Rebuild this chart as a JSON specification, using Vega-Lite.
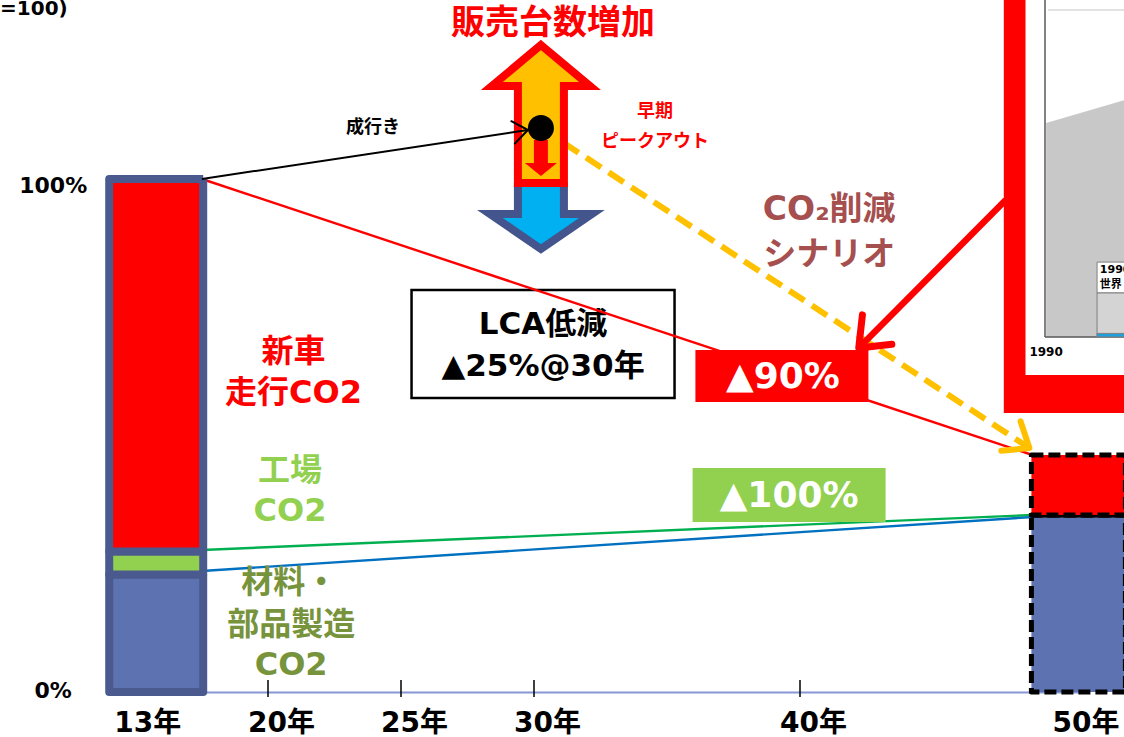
{
  "$schema": "https://vega.github.io/schema/vega-lite/v6.json",
  "width": 1124,
  "height": 692,
  "autosize": {"type": "none"},
  "padding": {"left": 0, "top": 0, "right": 0, "bottom": 45},
  "background": "#ffffff",
  "config": {"view": {"stroke": null}, "font": "DejaVu Sans, Noto Sans CJK JP"},
  "resolve": {"scale": {"color": "independent"}},
  "encoding": {
    "x": {
      "field": "year",
      "type": "quantitative",
      "scale": {"domain": [13, 20, 40, 50], "range": [153, 268, 800, 1084], "nice": false, "zero": false},
      "axis": {
        "values": [13, 20, 25, 30, 40, 50],
        "labelExpr": "datum.value + '年'",
        "title": null,
        "grid": false,
        "ticks": false,
        "tickSize": 0,
        "domainColor": "#8796d4",
        "domainWidth": 2,
        "labelFont": "DejaVu Sans, Noto Sans CJK JP",
        "labelFontSize": 28,
        "labelFontWeight": "bold",
        "labelColor": "#000000",
        "labelBaseline": "alphabetic",
        "labelPadding": 39,
        "labelFlush": false,
        "labelOverlap": false,
        "labelBound": false,
        "labelOffset": {"condition": [{"test": "datum.value === 13", "value": -9}, {"test": "datum.value === 50", "value": 7}], "value": 13}
      }
    },
    "y": {
      "field": "pct",
      "type": "quantitative",
      "scale": {"domain": [0, 134.89], "nice": false, "zero": false},
      "axis": null
    }
  },
  "layer": [
    {
      "data": {"values": [
        {"part": "枠", "year": 47.32, "year2": 51.97, "pct": 54.39, "pct2": 136.8},
        {"part": "地", "year": 48.10, "year2": 51.97, "pct": 61.79, "pct2": 136.8}
      ]},
      "mark": {"type": "rect", "opacity": 1},
      "encoding": {
        "x2": {"field": "year2"},
        "y2": {"field": "pct2"},
        "color": {"field": "part", "type": "nominal", "scale": {"domain": ["枠", "地"], "range": ["#ff0000", "#ffffff"]}, "legend": null}
      }
    },
    {
      "data": {"values": [
        {"year": 48.84, "pct": 110.92, "pct2": 69.2},
        {"year": 51.97, "pct": 115.87, "pct2": 69.2}
      ]},
      "mark": {"type": "area", "color": "#c8c8c8", "opacity": 1},
      "encoding": {"y2": {"field": "pct2"}}
    },
    {
      "data": {"values": [
        {"part": "軸", "year": 48.80, "year2": 48.80, "pct": 69.2, "pct2": 136.8},
        {"part": "軸", "year": 48.80, "year2": 51.97, "pct": 69.2, "pct2": 69.2},
        {"part": "罫", "year": 48.91, "year2": 51.97, "pct": 132.94, "pct2": 132.94}
      ]},
      "mark": {"type": "rule", "strokeWidth": 1.5},
      "encoding": {
        "x2": {"field": "year2"},
        "y2": {"field": "pct2"},
        "color": {"field": "part", "type": "nominal", "scale": {"domain": ["軸", "罫"], "range": ["#595959", "#d9d9d9"]}, "legend": null}
      }
    },
    {
      "data": {"values": [
        {"part": "凡例", "year": 50.67, "year2": 51.97, "pct": 77.78, "pct2": 83.8},
        {"part": "棒", "year": 50.67, "year2": 51.97, "pct": 69.2, "pct2": 77.78},
        {"part": "下端", "year": 50.67, "year2": 51.97, "pct": 69.2, "pct2": 69.9}
      ]},
      "mark": {"type": "rect", "opacity": 1, "stroke": "#7f7f7f", "strokeWidth": 1},
      "encoding": {
        "x2": {"field": "year2"},
        "y2": {"field": "pct2"},
        "color": {"field": "part", "type": "nominal", "scale": {"domain": ["凡例", "棒", "下端"], "range": ["#ffffff", "#d4d4d4", "#1fa0dc"]}, "legend": null}
      }
    },
    {
      "data": {"values": [{"year": 48.84, "pct": 66.37, "label": "1990"}]},
      "mark": {"type": "text", "fontSize": 12, "fontWeight": "bold", "color": "#000000", "align": "center", "baseline": "middle"},
      "encoding": {"text": {"field": "label"}}
    },
    {
      "data": {"values": [
        {"year": 50.77, "pct": 82.26, "label": "1990年"},
        {"year": 50.77, "pct": 79.34, "label": "世界"}
      ]},
      "mark": {"type": "text", "fontSize": 11, "fontWeight": "bold", "color": "#000000", "align": "left", "baseline": "middle"},
      "encoding": {"text": {"field": "label"}}
    },
    {
      "data": {"values": [
        {"year": 6.55, "pct": 98.54, "label": "100%"},
        {"year": 6.55, "pct": 0.19, "label": "0%"}
      ]},
      "mark": {"type": "text", "fontSize": 22, "fontWeight": "bold", "color": "#000000", "align": "center", "baseline": "middle"},
      "encoding": {"text": {"field": "label"}}
    },
    {
      "data": {"values": [{"year": 30.34, "pct": 67.84}]},
      "mark": {"type": "point", "shape": "M-1,-0.411L1,-0.411L1,0.411L-1,0.411Z", "size": 69169, "filled": true, "fill": "#ffffff", "stroke": "#000000", "strokeWidth": 2.5, "opacity": 1}
    },
    {
      "data": {"values": [
        {"year": 30.34, "pct": 71.54, "label": "LCA低減"},
        {"year": 30.34, "pct": 63.35, "label": "▲25%@30年"}
      ]},
      "mark": {"type": "text", "fontSize": 31, "fontWeight": "bold", "color": "#000000", "align": "center", "baseline": "middle"},
      "encoding": {"text": {"field": "label"}}
    },
    {
      "data": {"values": [
        {"line": "走行", "year": 15.86, "pct": 100},
        {"line": "走行", "year": 48.35, "pct": 46.2},
        {"line": "工場", "year": 15.86, "pct": 27.68},
        {"line": "工場", "year": 48.35, "pct": 34.5},
        {"line": "材料", "year": 15.86, "pct": 23.59},
        {"line": "材料", "year": 48.35, "pct": 34.1}
      ]},
      "mark": {"type": "line", "strokeWidth": 2.4},
      "encoding": {
        "color": {"field": "line", "type": "nominal", "scale": {"domain": ["走行", "工場", "材料"], "range": ["#ff0000", "#00b050", "#0070c0"]}, "legend": null}
      }
    },
    {
      "data": {"values": [
        {"year": 30.26, "pct": 109.94},
        {"year": 48.24, "pct": 47.56}
      ]},
      "mark": {"type": "line", "color": "#ffc000", "strokeWidth": 6, "strokeDash": [18, 9]},
      "encoding": {}
    },
    {
      "data": {"values": [{"year": 48.24, "pct": 47.56}]},
      "mark": {"type": "point", "shape": "M-1,-0.8L0,0L-1,0.8", "size": 1936, "filled": false, "stroke": "#ffc000", "strokeWidth": 6, "strokeCap": "round", "strokeJoin": "round", "angle": 33, "opacity": 1}
    },
    {
      "data": {"values": [
        {"year": 13, "source": "材料・部品製造", "co2": 22.9, "order": 1},
        {"year": 13, "source": "工場", "co2": 4.5, "order": 2},
        {"year": 13, "source": "新車走行", "co2": 72.6, "order": 3},
        {"year": 50, "source": "材料・部品製造", "co2": 34.5, "order": 1},
        {"year": 50, "source": "工場", "co2": 0, "order": 2},
        {"year": 50, "source": "新車走行", "co2": 11.7, "order": 3}
      ]},
      "mark": {"type": "bar", "size": 94, "opacity": 1, "strokeJoin": "round"},
      "encoding": {
        "y": {"field": "co2", "type": "quantitative", "stack": "zero", "scale": {"domain": [0, 134.89], "nice": false, "zero": false}, "axis": null},
        "color": {"field": "source", "type": "nominal", "scale": {"domain": ["材料・部品製造", "工場", "新車走行"], "range": ["#5d72b0", "#92d050", "#ff0000"]}, "legend": null},
        "order": {"field": "order", "type": "quantitative"},
        "stroke": {"condition": {"test": "datum.year === 50", "value": "#000000"}, "value": "#4b5a8e"},
        "strokeWidth": {"condition": {"test": "datum.year === 50", "value": 5}, "value": 8},
        "strokeDash": {"condition": {"test": "datum.year === 50", "value": [12, 5]}, "value": [1, 0]}
      }
    },
    {
      "data": {"values": [
        {"year": 20, "pct": -0.97, "pct2": 2.34},
        {"year": 25, "pct": -0.97, "pct2": 2.34},
        {"year": 30, "pct": -0.97, "pct2": 2.34},
        {"year": 40, "pct": -0.97, "pct2": 2.34}
      ]},
      "mark": {"type": "rule", "color": "#000000", "strokeWidth": 1.5},
      "encoding": {
        "y2": {"field": "pct2"}
      }
    },
    {
      "data": {"values": [{"year": 39.32, "pct": 61.6}]},
      "mark": {"type": "point", "shape": "M-1,-0.3L1,-0.3L1,0.3L-1,0.3Z", "size": 29929, "filled": true, "fill": "#ff0000", "strokeWidth": 0, "opacity": 1}
    },
    {
      "data": {"values": [{"year": 39.59, "pct": 38.4}]},
      "mark": {"type": "point", "shape": "M-1,-0.28L1,-0.28L1,0.28L-1,0.28Z", "size": 37249, "filled": true, "fill": "#92d050", "strokeWidth": 0, "opacity": 1}
    },
    {
      "data": {"values": [
        {"year": 39.36, "pct": 61.4, "label": "▲90%"},
        {"year": 39.59, "pct": 38.21, "label": "▲100%"}
      ]},
      "mark": {"type": "text", "fontSize": 36, "fontWeight": "bold", "color": "#ffffff", "align": "center", "baseline": "middle"},
      "encoding": {"text": {"field": "label"}}
    },
    {
      "data": {"values": [{"year": 30.26, "pct": 106.14}]},
      "mark": {"type": "point", "shape": "M-0.214,0.33L-0.214,0.619L-0.474,0.619L0,0.944L0.474,0.619L0.214,0.619L0.214,0.33", "size": 46225, "filled": true, "fill": "#00b0f0", "stroke": "#44548c", "strokeWidth": 8, "strokeJoin": "miter", "opacity": 1}
    },
    {
      "data": {"values": [{"year": 30.26, "pct": 106.14}]},
      "mark": {"type": "point", "shape": "M0,-0.953L0.456,-0.572L0.214,-0.572L0.214,0.33L-0.214,0.33L-0.214,-0.572L-0.456,-0.572Z", "size": 46225, "filled": true, "fill": "#ffc000", "stroke": "#ff0000", "strokeWidth": 8, "strokeJoin": "miter", "opacity": 1}
    },
    {
      "data": {"values": [{"year": 30.26, "pct": 106.14}]},
      "mark": {"type": "point", "shape": "M-0.065,-0.07L0.065,-0.07L0.065,0.144L0.149,0.144L0,0.265L-0.149,0.144L-0.065,0.144Z", "size": 46225, "filled": true, "fill": "#ff0000", "strokeWidth": 0, "opacity": 1}
    },
    {
      "data": {"values": [{"year": 30.26, "pct": 109.94}]},
      "mark": {"type": "point", "shape": "circle", "size": 676, "filled": true, "fill": "#000000", "strokeWidth": 0, "opacity": 1}
    },
    {
      "data": {"values": [
        {"year": 15.86, "pct": 100},
        {"year": 29.77, "pct": 109.55}
      ]},
      "mark": {"type": "line", "color": "#000000", "strokeWidth": 2},
      "encoding": {}
    },
    {
      "data": {"values": [{"year": 29.77, "pct": 109.55}]},
      "mark": {"type": "point", "shape": "M-1,-0.75L0,0L-1,0.75", "size": 900, "filled": false, "stroke": "#000000", "strokeWidth": 2, "strokeCap": "round", "strokeJoin": "round", "angle": -9, "opacity": 1}
    },
    {
      "data": {"values": [
        {"year": 47.39, "pct": 95.9},
        {"year": 42.11, "pct": 67.06}
      ]},
      "mark": {"type": "line", "color": "#ff0000", "strokeWidth": 6.5},
      "encoding": {}
    },
    {
      "data": {"values": [{"year": 42.11, "pct": 67.06}]},
      "mark": {"type": "point", "shape": "M-1,-0.8L0,0L-1,0.8", "size": 2704, "filled": false, "stroke": "#ff0000", "strokeWidth": 7, "strokeCap": "round", "strokeJoin": "round", "angle": 135, "opacity": 1}
    },
    {
      "data": {"values": [{"year": 30.71, "pct": 130.21, "label": "販売台数増加"}]},
      "mark": {"type": "text", "fontSize": 34, "fontWeight": "bold", "color": "#ff0000", "align": "center", "baseline": "middle"},
      "encoding": {"text": {"field": "label"}}
    },
    {
      "data": {"values": [
        {"year": 34.55, "pct": 113.06, "label": "早期"},
        {"year": 34.55, "pct": 107.21, "label": "ピークアウト"}
      ]},
      "mark": {"type": "text", "fontSize": 18, "fontWeight": "bold", "color": "#ff0000", "align": "center", "baseline": "middle"},
      "encoding": {"text": {"field": "label"}}
    },
    {
      "data": {"values": [{"year": 23.95, "pct": 109.94, "label": "成行き"}]},
      "mark": {"type": "text", "fontSize": 18, "fontWeight": "bold", "color": "#000000", "align": "center", "baseline": "middle"},
      "encoding": {"text": {"field": "label"}}
    },
    {
      "data": {"values": [
        {"year": 41.05, "pct": 93.96, "label": "CO₂削減"},
        {"year": 41.05, "pct": 85.19, "label": "シナリオ"}
      ]},
      "mark": {"type": "text", "fontSize": 33, "fontWeight": "bold", "color": "#a54f4f", "align": "center", "baseline": "middle"},
      "encoding": {"text": {"field": "label"}}
    },
    {
      "data": {"values": [
        {"year": 20.96, "pct": 66.28, "label": "新車"},
        {"year": 20.96, "pct": 58.28, "label": "走行CO2"}
      ]},
      "mark": {"type": "text", "fontSize": 32, "fontWeight": "bold", "color": "#ff0000", "align": "center", "baseline": "middle"},
      "encoding": {"text": {"field": "label"}}
    },
    {
      "data": {"values": [
        {"year": 20.83, "pct": 43.08, "label": "工場"},
        {"year": 20.83, "pct": 35.29, "label": "CO2"}
      ]},
      "mark": {"type": "text", "fontSize": 32, "fontWeight": "bold", "color": "#92d050", "align": "center", "baseline": "middle"},
      "encoding": {"text": {"field": "label"}}
    },
    {
      "data": {"values": [
        {"year": 20.8, "pct": 21.25, "label": "材料・"},
        {"year": 20.87, "pct": 13.06, "label": "部品製造"},
        {"year": 20.87, "pct": 5.26, "label": "CO2"}
      ]},
      "mark": {"type": "text", "fontSize": 32, "fontWeight": "bold", "color": "#77933c", "align": "center", "baseline": "middle"},
      "encoding": {"text": {"field": "label"}}
    },
    {
      "data": {"values": [{"year": 7.46, "pct": 131.97, "label": "(13年=100)"}]},
      "mark": {"type": "text", "fontSize": 20, "fontWeight": "bold", "color": "#000000", "align": "right", "baseline": "alphabetic"},
      "encoding": {"text": {"field": "label"}}
    }
  ]
}
